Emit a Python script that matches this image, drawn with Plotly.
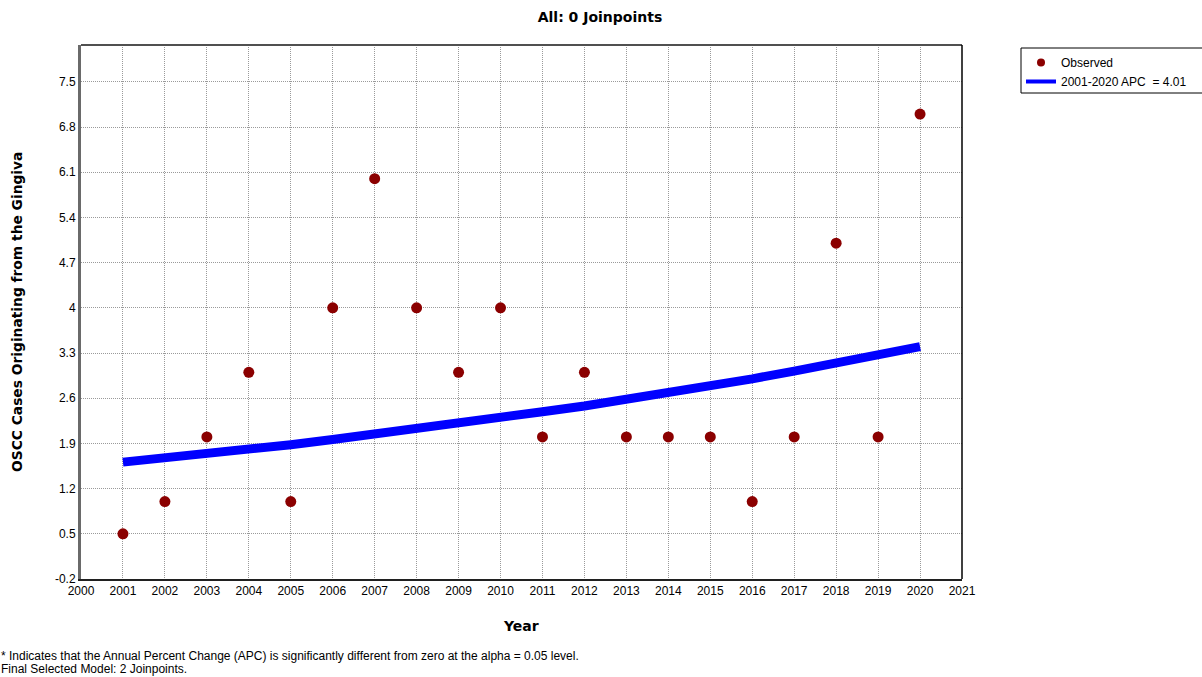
import plotly.graph_objects as go

years = list(range(2001, 2021))
observed = [0.5, 1, 2, 3, 1, 4, 6, 4, 3, 4, 2, 3, 2, 2, 2, 1, 2, 5, 2, 7]
fitted = [1.61, 1.67, 1.74, 1.81, 1.88, 1.96, 2.04, 2.12, 2.21, 2.29,
          2.39, 2.48, 2.58, 2.68, 2.79, 2.90, 3.02, 3.14, 3.27, 3.40]
x_ticks = list(range(2000, 2022))
y_ticks = [-0.2, 0.5, 1.2, 1.9, 2.6, 3.3, 4.0, 4.7, 5.4, 6.1, 6.8, 7.5]
y_tick_labels = ["-0.2", "0.5", "1.2", "1.9", "2.6", "3.3", "4", "4.7", "5.4", "6.1", "6.8", "7.5"]

# body margin is removed in the page, so figure starts at (0, 0)
OFF = 0
W, H = 1202, 677
L, T = 81, 45
PW, PH = 881, 534
R = W - L - PW
B = H - T - PH

def px(xabs):
    return (xabs - OFF - L) / PW

def py(yabs):
    return (T + PH - (yabs - OFF)) / PH

fig = go.Figure()
fig.add_trace(go.Scatter(x=years, y=observed, mode="markers", name="Observed",
                         marker=dict(color="#8B0000", size=11), showlegend=False))
fig.add_trace(go.Scatter(x=years, y=fitted, mode="lines",
                         name="2001-2020 APC \u00a0= 4.01",
                         line=dict(color="#0000FF", width=9), showlegend=False))
# legend entries (smaller symbols as in the reference)
fig.add_trace(go.Scatter(x=[None], y=[None], mode="markers", name="Observed",
                         marker=dict(color="#8B0000", size=8)))
fig.add_trace(go.Scatter(x=[None], y=[None], mode="lines",
                         name="2001-2020 APC \u00a0= 4.01",
                         line=dict(color="#0000FF", width=4)))

grid = dict(showgrid=True, gridcolor="#9a9a9a", griddash="1px,1px", gridwidth=1, zeroline=False)

fig.update_layout(
    width=W, height=H,
    margin=dict(l=L, r=R, t=T, b=B, autoexpand=False),
    paper_bgcolor="white", plot_bgcolor="white",
    font=dict(family="Liberation Sans, Arial", size=12, color="black"),
    title=dict(text="<b>All: 0 Joinpoints</b>", x=(600 - OFF) / W, xanchor="center",
               y=1 - (17 - OFF) / H, yanchor="middle",
               font=dict(family="DejaVu Sans, Verdana", size=14, color="black")),
    legend=dict(x=px(1021), y=py(48), xanchor="left", yanchor="top",
                borderwidth=0, bgcolor="rgba(0,0,0,0)",
                font=dict(family="Liberation Sans, Arial", size=12),
                itemwidth=30, tracegroupgap=0),
    xaxis=dict(range=[2000, 2021], tickvals=x_ticks, ticktext=[str(t) for t in x_ticks],
               showline=True, linecolor="#202020", linewidth=2, mirror=False,
               ticks="", tickfont=dict(size=12), automargin=False,
               **grid),
    yaxis=dict(range=[-0.2, 8.07], tickvals=y_ticks, ticktext=y_tick_labels,
               showline=True, linecolor="#6a6a6a", linewidth=3, mirror=False,
               ticks="", tickfont=dict(size=12), automargin=False,
               **grid),
)

# axis titles as annotations
fig.add_annotation(xref="paper", yref="paper", x=px(521), y=py(626), xanchor="center", yanchor="middle",
                   text="<b>Year</b>", showarrow=False,
                   font=dict(family="DejaVu Sans, Verdana", size=14, color="black"))
fig.add_annotation(xref="paper", yref="paper", x=px(17), y=py(312), xanchor="center", yanchor="middle",
                   text="<b>OSCC Cases Originating from the Gingiva</b>", showarrow=False, textangle=-90,
                   font=dict(family="DejaVu Sans, Verdana", size=13.8, color="black"))

# frame on top and right
fig.add_shape(type="line", xref="paper", yref="paper", x0=0, y0=1, x1=1, y1=1,
              line=dict(color="#505050", width=2), layer="above")
fig.add_shape(type="line", xref="paper", yref="paper", x0=1, y0=0, x1=1, y1=1,
              line=dict(color="black", width=1.5), layer="above")

# legend box
fig.add_shape(type="rect", xref="paper", yref="paper",
              x0=px(1021), x1=px(1210), y0=py(93), y1=py(48),
              line=dict(color="black", width=1), fillcolor="rgba(0,0,0,0)", layer="above")

fig.add_annotation(xref="paper", yref="paper", x=px(-1), y=py(656), xanchor="left", yanchor="middle",
                   text="* Indicates that the Annual Percent Change (APC) is significantly different from zero at the alpha = 0.05 level.",
                   showarrow=False, font=dict(family="Liberation Sans, Arial", size=12, color="black"))
fig.add_annotation(xref="paper", yref="paper", x=px(-1), y=py(669), xanchor="left", yanchor="middle",
                   text="Final Selected Model: 2 Joinpoints.",
                   showarrow=False, font=dict(family="Liberation Sans, Arial", size=12, color="black"))

fig.write_html("out.html",
               config={"displayModeBar": False},
               post_script="document.body.style.margin='0px';document.body.style.overflow='hidden';")
